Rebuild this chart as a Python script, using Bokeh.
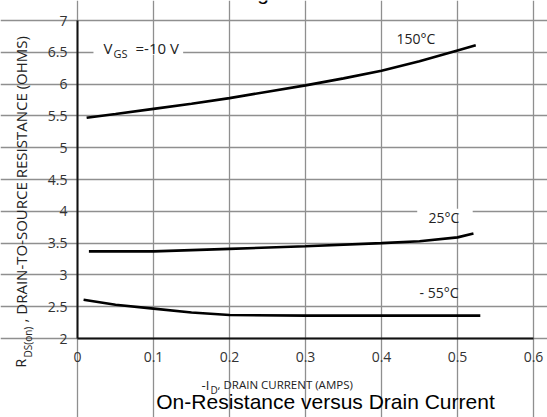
import math
from bokeh.plotting import figure
from bokeh.models import Range1d, FixedTicker, Label, BoxAnnotation
from bokeh.embed import file_html
from bokeh.resources import INLINE

# ---- data ----
i_150 = [0.012, 0.05, 0.1, 0.15, 0.2, 0.25, 0.3, 0.35, 0.4, 0.45, 0.5, 0.524]
r_150 = [5.47, 5.53, 5.61, 5.69, 5.78, 5.88, 5.98, 6.09, 6.21, 6.36, 6.53, 6.61]

i_25 = [0.015, 0.05, 0.1, 0.2, 0.3, 0.4, 0.45, 0.5, 0.521]
r_25 = [3.37, 3.37, 3.37, 3.41, 3.45, 3.50, 3.53, 3.59, 3.65]

i_m55 = [0.008, 0.05, 0.1, 0.15, 0.2, 0.3, 0.4, 0.5, 0.53]
r_m55 = [2.61, 2.53, 2.47, 2.41, 2.37, 2.36, 2.36, 2.36, 2.36]

x_ticks = [0, 0.1, 0.2, 0.3, 0.4, 0.5, 0.6]
x_tick_labels = ["0", "0.1", "0.2", "0.3", "0.4", "0.5", "0.6"]
y_ticks = [2, 2.5, 3, 3.5, 4, 4.5, 5, 5.5, 6, 6.5, 7]
y_tick_labels = ["2", "2.5", "3", "3.5", "4", "4.5", "5", "5.5", "6", "6.5", "7"]

title_top = "On-Region Characteristics"
title_bottom = "On-Resistance versus Drain Current"

FONT = "Open Sans"
TXT = "#222222"

# frame spans the whole canvas; plot box is x 0..0.6 / y 2..7 inside it
p = figure(width=547, height=417, output_backend="svg", toolbar_location=None,
           x_range=Range1d(-0.10132, 0.61842), y_range=Range1d(0.7579, 7.3145),
           min_border=0)
p.background_fill_color = "white"
p.border_fill_color = "white"
p.outline_line_color = None

p.xaxis.ticker = FixedTicker(ticks=x_ticks)
p.yaxis.ticker = FixedTicker(ticks=y_ticks)
p.xaxis.major_label_overrides = dict(zip(x_ticks, x_tick_labels))
p.yaxis.major_label_overrides = dict(zip(y_ticks, y_tick_labels))
p.xaxis.fixed_location = 2
p.yaxis.fixed_location = 0
p.xaxis.bounds = (0, 0.6)
p.yaxis.bounds = (2, 7)
for ax in (p.xaxis, p.yaxis):
    ax.axis_line_color = "#111111"
    ax.axis_line_width = 2
    ax.major_tick_line_color = None
    ax.minor_tick_line_color = None
    ax.major_label_text_font = FONT
    ax.major_label_text_font_size = "14px"
    ax.major_label_text_color = "#333333"
p.xaxis.major_label_standoff = 7
p.yaxis.major_label_standoff = 4

p.xgrid.ticker = FixedTicker(ticks=x_ticks)
p.ygrid.ticker = FixedTicker(ticks=y_ticks)
p.xgrid.bounds = (2, 7)
p.ygrid.bounds = (0, 0.6)
p.grid.grid_line_color = "#8f8f8f"
p.grid.grid_line_width = 1.3

# curves
for xs, ys in ((i_150, r_150), (i_25, r_25), (i_m55, r_m55)):
    p.line(xs, ys, line_color="black", line_width=2.6)

# white masks behind in-plot labels
p.add_layout(BoxAnnotation(left=0.021, right=0.139, bottom=6.46, top=6.54,
                           fill_color="white", fill_alpha=1, line_color=None))
p.add_layout(BoxAnnotation(left=0.447, right=0.52, bottom=3.96, top=4.04,
                           fill_color="white", fill_alpha=1, line_color=None))

def lab(x, y, text, size, font=FONT, color=TXT, align="left", angle=0, units="canvas"):
    p.add_layout(Label(x=x, y=y, text=text, text_font=font, text_font_size=size,
                       text_color=color, text_align=align, text_baseline="middle",
                       angle=angle, x_units=units, y_units=units))

# in-plot annotations (canvas pixels, vertical centres)
lab(103, 47.5, "V", "15px")
lab(113, 53, "GS", "11px")
lab(135, 47.5, "=-10 V", "15px")

lab(396, 38, "150°C", "14px")
lab(428, 217, "25°C", "14px")
lab(419, 292, "- 55°C", "14px")

# y axis label (rotated, with subscript)
lab(20, 367, "R", "14px", angle=math.pi / 2)
lab(27, 357, "DS(on)", "10px", angle=math.pi / 2)
lab(20, 322, ", DRAIN-TO-SOURCE RESISTANCE (OHMS)", "15px", angle=math.pi / 2)

# x axis label (with subscript)
lab(201, 384, "-I", "13px")
lab(210, 389, "D", "10px")
lab(217, 384, ", DRAIN CURRENT (AMPS)", "11.5px")

# titles
lab(318, -8, title_top, "21px", font="Liberation Sans", color="black", align="center")
lab(325, 401, title_bottom, "21px", font="Liberation Sans", color="black", align="center")

open("out.html", "w").write(file_html(p, INLINE))
